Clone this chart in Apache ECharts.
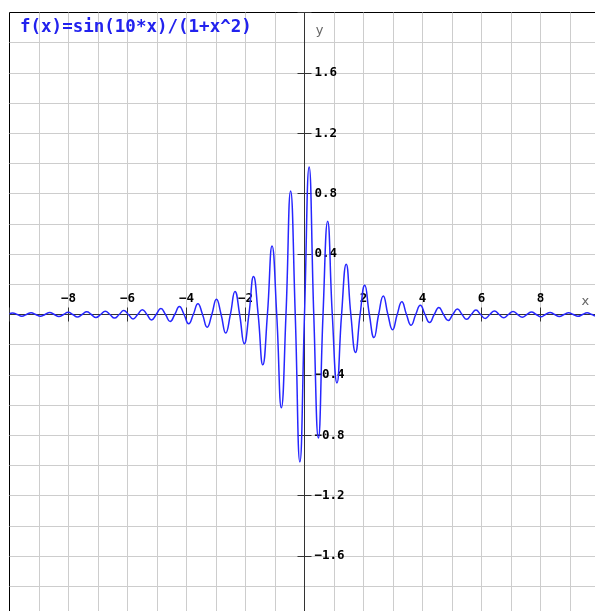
<!DOCTYPE html>
<html>
<head>
<meta charset="utf-8">
<script src="https://cdn.jsdelivr.net/npm/echarts@6/dist/echarts.min.js"></script>
<style>
html,body{margin:0;padding:0;background:#fff;overflow:hidden}
#c{width:595px;height:611px}
</style>
</head>
<body>
<div id="c"></div>
<script>
// Title / formula text
const titleText = 'f(x)=sin(10*x)/(1+x^2)';

// Axis ranges and tick steps
const xRange = [-10, 10];
const yRange = [-2, 2];
const xTickStep = 2;
const yTickStep = 0.4;

// Curve points: zero crossings and peaks/troughs
const xs = [
  -10, -9.896, -9.739, -9.582, -9.425, -9.268, -9.111, -8.954, -8.796, -8.639,
  -8.482, -8.325, -8.168, -8.011, -7.854, -7.697, -7.540, -7.383, -7.226, -7.069,
  -6.912, -6.754, -6.597, -6.440, -6.283, -6.126, -5.969, -5.812, -5.655, -5.498,
  -5.341, -5.184, -5.027, -4.869, -4.712, -4.555, -4.398, -4.241, -4.084, -3.927,
  -3.770, -3.613, -3.456, -3.299, -3.142, -2.985, -2.827, -2.670, -2.513, -2.356,
  -2.199, -2.042, -1.885, -1.728, -1.571, -1.414, -1.257, -1.100, -0.942, -0.785,
  -0.628, -0.471, -0.314, -0.157, 0,
  0.157, 0.314, 0.471, 0.628, 0.785, 0.942, 1.100, 1.257, 1.414, 1.571,
  1.728, 1.885, 2.042, 2.199, 2.356, 2.513, 2.670, 2.827, 2.985, 3.142,
  3.299, 3.456, 3.613, 3.770, 3.927, 4.084, 4.241, 4.398, 4.555, 4.712,
  4.869, 5.027, 5.184, 5.341, 5.498, 5.655, 5.812, 5.969, 6.126, 6.283,
  6.440, 6.597, 6.754, 6.912, 7.069, 7.226, 7.383, 7.540, 7.697, 7.854,
  8.011, 8.168, 8.325, 8.482, 8.639, 8.796, 8.954, 9.111, 9.268, 9.425,
  9.582, 9.739, 9.896, 10
];
const ys = [
  0.005, 0.010, 0, -0.011, 0, 0.012, 0, -0.012, 0, 0.013,
  0, -0.014, 0, 0.015, 0, -0.017, 0, 0.018, 0, -0.020,
  0, 0.021, 0, -0.024, 0, 0.026, 0, -0.029, 0, 0.032,
  0, -0.036, 0, 0.040, 0, -0.046, 0, 0.053, 0, -0.061,
  0, 0.071, 0, -0.084, 0, 0.101, 0, -0.123, 0, 0.153,
  0, -0.193, 0, 0.251, 0, -0.333, 0, 0.453, 0, -0.618,
  0, 0.818, 0, -0.976, 0,
  0.976, 0, -0.818, 0, 0.618, 0, -0.453, 0, 0.333, 0,
  -0.251, 0, 0.193, 0, -0.153, 0, 0.123, 0, -0.101, 0,
  0.084, 0, -0.071, 0, 0.061, 0, -0.053, 0, 0.046, 0,
  -0.040, 0, 0.036, 0, -0.032, 0, 0.029, 0, -0.026, 0,
  0.024, 0, -0.021, 0, 0.020, 0, -0.018, 0, 0.017, 0,
  -0.015, 0, 0.014, 0, -0.013, 0, 0.012, 0, -0.012, 0,
  0.011, 0, -0.010, -0.005
];

const curveData = xs.map((x, i) => [x, ys[i]]);

const MONO = "'DejaVu Sans Mono', 'Liberation Mono', monospace";
const AXIS_COLOR = '#333';
const GRID_COLOR = '#cdcdcd';

// Plot area (extends past the window on the right and bottom, as in the reference)
const GRID_LEFT = 9.5, GRID_TOP = 12.5, GRID_W = 590, GRID_H = 604;
// Distance from the grid edge to the value 0 on each axis (axes cross at the origin)
const xZeroFromBottom = GRID_H * (0 - yRange[0]) / (yRange[1] - yRange[0]);
const xZeroFromTop = GRID_H - xZeroFromBottom;
const yZeroFromLeft = GRID_W * (0 - xRange[0]) / (xRange[1] - xRange[0]);
const yZeroFromRight = GRID_W - yZeroFromLeft;

function fmtX(v) {
  if (Math.abs(v) < 1e-9 || Math.abs(v) >= 10 - 1e-9) return '';
  const s = String(Math.round(Math.abs(v)));
  return v < 0 ? '\u2212' + s : s;
}
function fmtY(v) {
  if (Math.abs(v) < 1e-9 || Math.abs(v) >= 2 - 1e-9) return '';
  const s = Math.abs(v).toFixed(1);
  return v < 0 ? '\u2212' + s : s;
}

const labelStyle = { fontFamily: MONO, fontWeight: 'bold', fontSize: 12.5, color: '#000' };

const chart = echarts.init(document.getElementById('c'), null, { renderer: 'canvas' });
chart.setOption({
  animation: false,
  backgroundColor: '#fff',
  title: {
    text: titleText,
    left: 20, top: 18, padding: 0,
    textStyle: { fontFamily: MONO, fontWeight: 'bold', fontSize: 17.5, color: '#2222ee' }
  },
  grid: {
    left: GRID_LEFT, top: GRID_TOP, width: GRID_W, height: GRID_H,
    show: true, borderColor: '#000', borderWidth: 1, backgroundColor: '#fff',
    containLabel: false, outerBoundsMode: 'none', z: 0
  },
  xAxis: [
    {
      type: 'value', position: 'bottom', offset: -xZeroFromBottom,
      min: xRange[0], max: xRange[1], interval: xTickStep,
      axisLine: { show: true, onZero: false, lineStyle: { color: AXIS_COLOR, width: 1 } },
      axisTick: { show: true, inside: false, length: 7, lineStyle: { color: AXIS_COLOR, width: 1 } },
      axisLabel: Object.assign({ show: true, inside: true, margin: 9, formatter: fmtX }, labelStyle),
      splitLine: { show: true, showMinLine: false, lineStyle: { color: GRID_COLOR, width: 1 } },
      minorTick: { show: false, splitNumber: 2 },
      minorSplitLine: { show: true, lineStyle: { color: GRID_COLOR, width: 1 } },
      name: 'x', nameLocation: 'end', nameGap: -18,
      nameTextStyle: { color: '#666', fontFamily: "'DejaVu Sans', sans-serif", fontSize: 13, verticalAlign: 'bottom', padding: [0, 0, 6, 0] }
    },
    {
      type: 'value', position: 'top', offset: -xZeroFromTop,
      min: xRange[0], max: xRange[1], interval: xTickStep,
      axisLine: { show: false, onZero: false },
      axisTick: { show: true, inside: false, length: 7, lineStyle: { color: AXIS_COLOR, width: 1 } },
      axisLabel: { show: false },
      splitLine: { show: false }
    }
  ],
  yAxis: [
    {
      type: 'value', position: 'left', offset: -yZeroFromLeft,
      min: yRange[0], max: yRange[1], interval: yTickStep,
      axisLine: { show: true, onZero: false, lineStyle: { color: AXIS_COLOR, width: 1 } },
      axisTick: { show: true, inside: false, length: 7, lineStyle: { color: AXIS_COLOR, width: 1 } },
      axisLabel: Object.assign({ show: true, inside: true, margin: 10, formatter: fmtY }, labelStyle),
      splitLine: { show: true, showMaxLine: false, lineStyle: { color: GRID_COLOR, width: 1 } },
      minorTick: { show: false, splitNumber: 2 },
      minorSplitLine: { show: true, lineStyle: { color: GRID_COLOR, width: 1 } },
      name: 'y', nameLocation: 'end', nameGap: -25,
      nameTextStyle: { color: '#666', fontFamily: "'DejaVu Sans', sans-serif", fontSize: 13, align: 'center', verticalAlign: 'bottom', padding: [0, 0, 0, 30] }
    },
    {
      type: 'value', position: 'right', offset: -yZeroFromRight,
      min: yRange[0], max: yRange[1], interval: yTickStep,
      axisLine: { show: false, onZero: false },
      axisTick: { show: true, inside: false, length: 7, lineStyle: { color: AXIS_COLOR, width: 1 } },
      axisLabel: { show: false },
      splitLine: { show: false }
    }
  ],
  series: [
    {
      type: 'line', xAxisIndex: 0, yAxisIndex: 0,
      data: curveData,
      showSymbol: false, symbol: 'none',
      smooth: 0.5,
      lineStyle: { color: '#2626ff', width: 1.5 },
      clip: true
    }
  ]
});
</script>
</body>
</html>
